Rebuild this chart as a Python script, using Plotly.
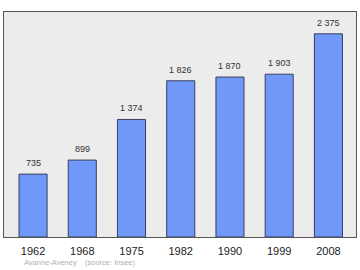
import plotly.graph_objects as go

years = ["1962", "1968", "1975", "1982", "1990", "1999", "2008"]
population = [735, 899, 1374, 1826, 1870, 1903, 2375]
value_labels = ["735", "899", "1 374", "1 826", "1 870", "1 903", "2 375"]
source_text = "Avanne-Aveney    (source: Insee)"

xs = list(range(len(years)))

fig = go.Figure()
fig.add_trace(go.Bar(
    x=xs, y=population, width=0.57,
    marker=dict(color="#6f98f8", line=dict(color="#3a3f5c", width=1)),
    hoverinfo="skip",
))

for xi, v, lab in zip(xs, population, value_labels):
    fig.add_annotation(x=xi, y=v, text=lab, showarrow=False,
                       yanchor="bottom", yshift=4,
                       font=dict(family="Liberation Sans, Arial, sans-serif", size=9, color="#333333"))

fig.add_annotation(xref="paper", yref="paper", x=0.05, y=-0.112, xanchor="left", yanchor="middle",
                   text=source_text, showarrow=False,
                   font=dict(family="Liberation Sans, Arial, sans-serif", size=7.5, color="#b0b0b0"))

fig.update_layout(
    width=360, height=270,
    margin=dict(l=4, r=4, t=12, b=33),
    paper_bgcolor="white",
    plot_bgcolor="#ececec",
    showlegend=False,
    bargap=0.4,
    xaxis=dict(range=[-0.59, 6.56], tickmode="array", tickvals=xs, ticktext=years,
               showgrid=False, zeroline=False, ticks="", showline=True, linecolor="#555555",
               linewidth=1, mirror=True, ticklabelstandoff=4,
               tickfont=dict(family="Liberation Sans, Arial, sans-serif", size=11, color="#222222")),
    yaxis=dict(range=[0, 2630], showgrid=False, zeroline=False, showticklabels=False,
               ticks="", showline=True, linecolor="#555555", linewidth=1, mirror=True),
)

fig.write_html("out.html")
